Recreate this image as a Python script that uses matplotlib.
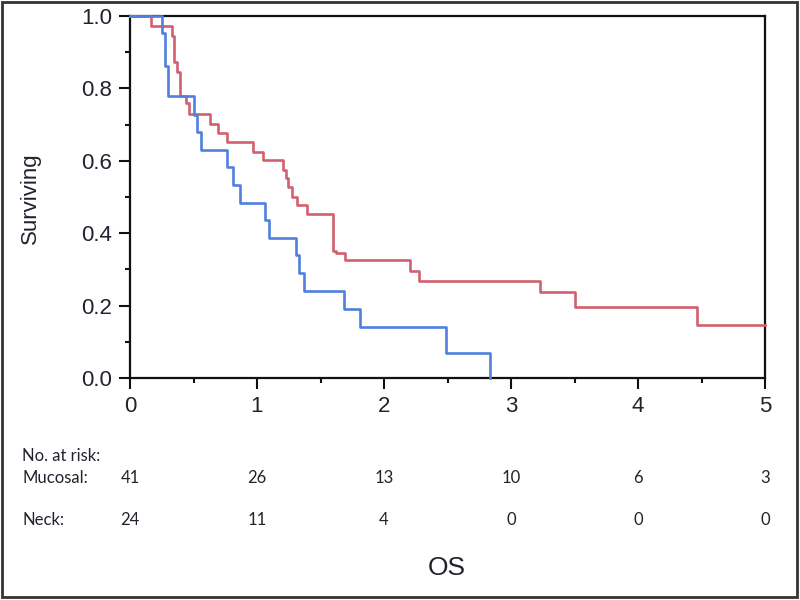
import matplotlib
matplotlib.use('Agg')
import matplotlib.pyplot as plt
import matplotlib.transforms as mtransforms
from matplotlib.patches import Rectangle
from matplotlib.ticker import MultipleLocator

# step curves (time in years, survival after the step)
neck_t = [0, 0.25, 0.272, 0.296, 0.504, 0.53, 0.557, 0.766, 0.814, 0.866,
          1.063, 1.094, 1.31, 1.331, 1.372, 1.687, 1.811, 2.49, 2.835]
neck_s = [1.0, 0.953, 0.862, 0.778, 0.727, 0.68, 0.63, 0.584, 0.533, 0.484,
          0.436, 0.386, 0.34, 0.289, 0.241, 0.19, 0.142, 0.068, 0.0]

mucosal_t = [0, 0.163, 0.328, 0.346, 0.367, 0.39, 0.44, 0.466, 0.63, 0.696,
             0.761, 0.971, 1.05, 1.207, 1.228, 1.247, 1.273, 1.312, 1.391,
             1.596, 1.62, 1.693, 2.205, 2.278, 3.228, 3.504, 4.467, 5.0]
mucosal_s = [1.0, 0.971, 0.945, 0.874, 0.846, 0.778, 0.759, 0.729, 0.703, 0.676,
             0.653, 0.625, 0.602, 0.575, 0.552, 0.528, 0.501, 0.478, 0.453,
             0.352, 0.345, 0.326, 0.296, 0.269, 0.238, 0.195, 0.146, 0.146]

risk_times = [0, 1, 2, 3, 4, 5]
risk_mucosal = [41, 26, 13, 10, 6, 3]
risk_neck = [24, 11, 4, 0, 0, 0]

red = '#d2606e'
blue = '#5080dc'
txt = '#22222e'

fig = plt.figure(figsize=(8, 6), dpi=100)
ax = fig.add_axes([130 / 800, 1 - 378 / 600, 635 / 800, 362 / 600])

ax.step(mucosal_t, mucosal_s, where='post', color=red, lw=1.9, clip_on=False, zorder=3)
ax.step(neck_t, neck_s, where='post', color=blue, lw=1.9, clip_on=False, zorder=4)

ax.set_xlim(0, 5)
ax.set_ylim(0, 1)
ax.xaxis.set_major_locator(MultipleLocator(1))
ax.xaxis.set_minor_locator(MultipleLocator(0.5))
ax.yaxis.set_major_locator(MultipleLocator(0.2))
ax.yaxis.set_minor_locator(MultipleLocator(0.1))
ax.yaxis.set_major_formatter(matplotlib.ticker.FormatStrFormatter('%.1f'))

for sp in ax.spines.values():
    sp.set_linewidth(1.6)
    sp.set_color('#111111')
ax.tick_params(which='major', direction='out', length=8, width=1.5, color='#111111',
               labelsize=16, labelcolor=txt, pad=5)
ax.tick_params(which='minor', direction='out', length=3.8, width=1.5, color='#111111')
for lab in ax.get_xticklabels() + ax.get_yticklabels():
    lab.set_fontfamily('Liberation Sans')

ax.set_ylabel('Surviving', fontsize=16, family='Liberation Sans', color=txt, va='center')
ax.yaxis.set_label_coords(-0.157, 0.497)
ax.set_xlabel('OS', fontsize=19, family='Liberation Sans', color=txt, va='center')
ax.xaxis.set_label_coords(0.499, -0.525)

# number at risk table under the axis
trans = mtransforms.blended_transform_factory(ax.transData, fig.transFigure)
fig.text(22 / 800, 1 - 456 / 600, 'No. at risk:', fontsize=12, family='Lato',
         color=txt, va='center', ha='left')
fig.text(22 / 800, 1 - 478 / 600, 'Mucosal:', fontsize=12, family='Lato',
         color=txt, va='center', ha='left')
fig.text(22 / 800, 1 - 520 / 600, 'Neck:', fontsize=12, family='Lato',
         color=txt, va='center', ha='left')
for t, m, n in zip(risk_times, risk_mucosal, risk_neck):
    ax.text(t, 1 - 478 / 600, str(m), transform=trans, fontsize=12, family='Lato',
            color=txt, ha='center', va='center')
    ax.text(t, 1 - 520 / 600, str(n), transform=trans, fontsize=12, family='Lato',
            color=txt, ha='center', va='center')

# outer frame
fig.patches.append(Rectangle((2 / 800, 3 / 600), 795 / 800, 595 / 600,
                             transform=fig.transFigure, fill=False,
                             edgecolor='#333333', lw=2))

plt.savefig('out.png', dpi=100)
